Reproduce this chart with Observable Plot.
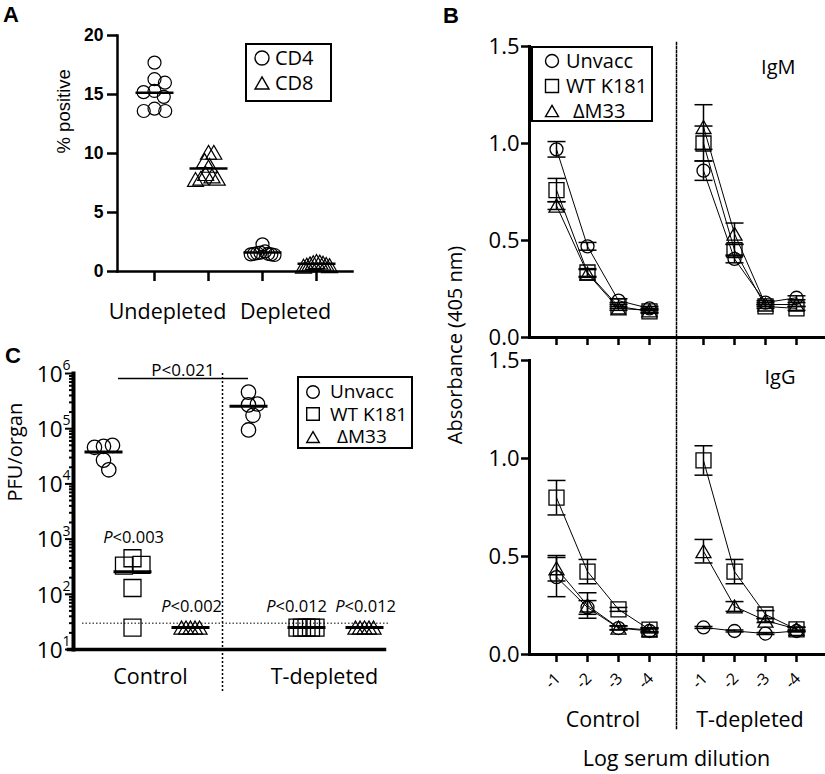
<!DOCTYPE html>
<html><head><meta charset="utf-8">
<script src="https://cdn.jsdelivr.net/npm/d3@7"></script>
<script src="https://cdn.jsdelivr.net/npm/@observablehq/plot@0.6"></script>
<style>
body{margin:0;background:#fff;}
#fig{position:relative;width:825px;height:774px;overflow:hidden;font-family:"Open Sans",sans-serif;color:#000;background:#fff;}
.letter{position:absolute;font:bold 22px "Liberation Sans",Arial,sans-serif;line-height:22px;}
.legend{position:absolute;border:2px solid #000;box-sizing:border-box;background:#fff;line-height:1;}
.legend .row{display:flex;align-items:center;white-space:nowrap;line-height:1;}
.legend svg{display:block;flex:none;}
.ylab{position:absolute;transform:translate(-50%,-50%) rotate(-90deg);white-space:nowrap;line-height:1;}
</style></head>
<body><div id="fig"></div>
<script>
// ---------------- data ----------------
// Panel A: % positive cells
const aGroups = ["Undepleted CD4", "Undepleted CD8", "Depleted CD4", "Depleted CD8"];
const aTreatments = ["Undepleted", "Depleted"];
const aCells = ["CD4", "CD8"];
const aUndepletedCD4 = [17.7, 16.3, 16.0, 15.3, 15.2, 14.8, 13.8, 13.6, 13.6];
const aUndepletedCD8 = [10.1, 10.1, 9.4, 9.0, 8.3, 8.1, 7.9, 7.9, 7.8];
const aDepletedCD4 = [2.3, 1.7, 1.6, 1.55, 1.5, 1.5, 1.45, 1.45, 1.4];
const aDepletedCD8 = [0.85, 0.8, 0.75, 0.7, 0.65, 0.6, 0.55, 0.5, 0.45];
const aYTicks = [0, 5, 10, 15, 20];

// Panel B: absorbance (mean, SEM) by log serum dilution
const bDilutions = ["-1", "-2", "-3", "-4"];
const bTreatments = ["Control", "T-depleted"];
const bVaccines = ["Unvacc", "WT K181", "ΔM33"];
const bPanels = ["IgM", "IgG"];
const bYTicks = [0, 0.5, 1.0, 1.5];
const igmCtrlUnvacc = [0.97, 0.47, 0.19, 0.15],  igmCtrlUnvaccSem = [0.04, 0.02, 0.01, 0.01];
const igmCtrlWT = [0.76, 0.335, 0.16, 0.135],     igmCtrlWTSem = [0.06, 0.02, 0.01, 0.01];
const igmCtrlM33 = [0.68, 0.33, 0.15, 0.14],      igmCtrlM33Sem = [0.02, 0.02, 0.01, 0.01];
const igmTdepUnvacc = [0.86, 0.405, 0.18, 0.205], igmTdepUnvaccSem = [0.05, 0.02, 0.01, 0.01];
const igmTdepWT = [1.0, 0.45, 0.16, 0.15],        igmTdepWTSem = [0.09, 0.03, 0.01, 0.01];
const igmTdepM33 = [1.085, 0.535, 0.17, 0.17],    igmTdepM33Sem = [0.115, 0.055, 0.01, 0.01];
const iggCtrlUnvacc = [0.395, 0.24, 0.135, 0.12], iggCtrlUnvaccSem = [0.1, 0.035, 0.01, 0.01];
const iggCtrlWT = [0.80, 0.423, 0.23, 0.127],     iggCtrlWTSem = [0.088, 0.062, 0.01, 0.01];
const iggCtrlM33 = [0.44, 0.25, 0.137, 0.125],    iggCtrlM33Sem = [0.065, 0.065, 0.01, 0.01];
const iggTdepUnvacc = [0.138, 0.12, 0.107, 0.12], iggTdepUnvaccSem = [0.005, 0.005, 0.005, 0.005];
const iggTdepWT = [0.99, 0.423, 0.204, 0.128],    iggTdepWTSem = [0.075, 0.062, 0.02, 0.01];
const iggTdepM33 = [0.527, 0.245, 0.173, 0.13],   iggTdepM33Sem = [0.06, 0.025, 0.01, 0.01];

// Panel C: PFU/organ
const cControlUnvacc = [48000, 50000, 46000, 27000, 18000];
const cControlWT = [450, 340, 330, 130, 25];
const cControlM33 = [25, 25, 25, 25, 25];
const cTdepUnvacc = [460000, 270000, 280000, 175000, 95000];
const cTdepWT = [25, 25, 25, 25, 25];
const cTdepM33 = [25, 25, 25, 25, 25];
const cYTicks = [1e1, 1e2, 1e3, 1e4, 1e5, 1e6];
const cLimit = [30];
const cPValues = ["<0.003", "<0.002", "<0.012", "<0.012"];
const cBracketLabel = "P<0.021";
// category slots (blank slots are spacing between groups)
const cSlots = ["Control Unvacc", "Control WT K181", " ", "Control ΔM33", "  ",
  "T-depleted Unvacc", "   ", "T-depleted WT K181", "    ", "T-depleted ΔM33"];

// ---------------- helpers ----------------
const sym = {
  circle: {draw(c, s) { const r = Math.sqrt(s / Math.PI); c.moveTo(r, 0); c.arc(0, 0, r, 0, 2 * Math.PI); }},
  square: {draw(c, s) { const r = Math.sqrt(s / Math.PI); c.rect(-r, -r, 2 * r, 2 * r); }},
  triangle: {draw(c, s) { const r = Math.sqrt(s / Math.PI), h = r * Math.sqrt(3);
    c.moveTo(0, -h / 2); c.lineTo(r, h / 2); c.lineTo(-r, h / 2); c.closePath(); }},
  hline: {draw(c, s) { const r = Math.sqrt(s / Math.PI); c.moveTo(-r, 0); c.lineTo(r, 0); }}
};

// beeswarm around each category position (collision distance d, max half-spread)
function swarm({d = 10, maxHalf = Infinity} = {}, options = {}) {
  return Plot.initializer(options, function (data, facets, channels, scales) {
    const XV = channels.x.value, YV = channels.y.value, n = XV.length;
    const X = Float64Array.from(XV, (v) => scales.x(v));
    const Y = Float64Array.from(YV, (v) => scales.y(v));
    const off = new Float64Array(n);
    for (const I of facets) {
      for (const G of d3.group(Array.from(I), (i) => X[i]).values()) {
        const placed = [];
        for (const i of G) {
          const cands = [0];
          for (const j of placed) {
            const dy = Y[i] - Y[j];
            if (Math.abs(dy) < d) { const dx = Math.sqrt(d * d - dy * dy); cands.push(off[j] + dx, off[j] - dx); }
          }
          cands.sort((a, b) => Math.abs(a) - Math.abs(b) || b - a);
          const ok = (c) => placed.every((j) => (c - off[j]) ** 2 + (Y[i] - Y[j]) ** 2 >= d * d - 1e-6);
          off[i] = cands.find(ok) ?? 0;
          placed.push(i);
        }
        const ext = d3.max(G, (i) => Math.abs(off[i]));
        if (ext > maxHalf) for (const i of G) off[i] *= maxHalf / ext;
      }
    }
    return {data, facets, channels: {x: {value: X.map((x, i) => x + off[i])}, y: {value: Y}}};
  });
}

const fig = document.getElementById("fig");
function place(el, left, top) {
  el.style.position = "absolute"; el.style.left = left + "px"; el.style.top = top + "px";
  fig.append(el); return el;
}
function html(tag, cls, text) { const e = document.createElement(tag); if (cls) e.className = cls; if (text != null) e.textContent = text; return e; }
function legend(entries, {left, top, width, height, rowH, padTop, symLeft, gap, fontSize, symR}) {
  const box = html("div", "legend");
  Object.assign(box.style, {width: width + "px", height: height + "px", paddingTop: padTop + "px", fontSize: fontSize + "px"});
  for (const [k, label, extra] of entries) {
    const row = html("div", "row"); row.style.height = rowH + "px";
    const p = d3.path(); sym[k].draw(p, Math.PI * symR * symR);
    const svg = d3.create("svg").attr("width", 18).attr("height", 18).style("margin-left", symLeft + "px");
    svg.append("path").attr("d", p.toString()).attr("transform", "translate(9,9)")
      .attr("fill", "none").attr("stroke", "black").attr("stroke-width", 1.4);
    const t = html("span", null, label); t.style.marginLeft = (gap + (extra || 0)) + "px";
    row.append(svg.node(), t); box.append(row);
  }
  return place(box, left, top);
}
const baseStyle = {fontFamily: "Open Sans", overflow: "visible", background: "transparent"};

// ---------------- Panel A ----------------
const aData = [
  ...aUndepletedCD4.map((value) => ({group: aGroups[0], cell: aCells[0], value})),
  ...aUndepletedCD8.map((value) => ({group: aGroups[1], cell: aCells[1], value})),
  ...aDepletedCD4.map((value) => ({group: aGroups[2], cell: aCells[0], value})),
  ...aDepletedCD8.map((value) => ({group: aGroups[3], cell: aCells[1], value}))
];
const plotA = Plot.plot({
  width: 400, height: 330, marginLeft: 117, marginRight: 48, marginTop: 35, marginBottom: 59,
  style: baseStyle,
  x: {type: "point", domain: aGroups, padding: 0.645},
  y: {domain: [0, 20]},
  marks: [
    Plot.axisY({ticks: aYTicks, tickSize: 10, tickPadding: 4, strokeWidth: 2.5, fontSize: 17.5,
      fontWeight: "bold", fontFamily: "Liberation Sans", label: null}),
    Plot.axisX({tickSize: 10, strokeWidth: 2.5, tickFormat: () => "", label: null}),
    Plot.frame({anchor: "left", strokeWidth: 2.5}),
    Plot.frame({anchor: "bottom", strokeWidth: 2.5}),
    Plot.text(["% positive"], {frameAnchor: "left", rotate: -90, dx: -53, fontSize: 18.5, fontFamily: "Liberation Sans"}),
    Plot.text([aTreatments[0]], {x: () => aGroups[0], frameAnchor: "bottom", dy: 47, dx: 13, fontSize: 21.5}),
    Plot.text([aTreatments[1]], {x: () => aGroups[2], frameAnchor: "bottom", dy: 47, dx: 23, fontSize: 21.5}),
    Plot.dot(aData.filter((d) => d.cell === "CD4"), swarm({d: 11, maxHalf: 12},
      {x: "group", y: "value", symbol: sym.circle, r: 6.5, stroke: "black", strokeWidth: 1.2, fill: "none"})),
    Plot.dot(aData.filter((d) => d.cell === "CD8"), swarm({d: 12, maxHalf: 13},
      {x: "group", y: "value", symbol: sym.triangle, r: 8, stroke: "black", strokeWidth: 1.2, fill: "none"})),
    Plot.dot(aData, Plot.groupX({y: "mean"}, {x: "group", y: "value", symbol: sym.hline, r: 19, stroke: "black", strokeWidth: 2.5}))
  ]
});
place(plotA, 0, 0);

// ---------------- Panel B ----------------
function bTable(series) {
  return series.flatMap(([treatment, vaccine, means, sems]) =>
    means.map((mean, i) => ({treatment, vaccine, dilution: bDilutions[i], mean, sem: sems[i]})));
}
const igmRows = bTable([
  [bTreatments[0], bVaccines[0], igmCtrlUnvacc, igmCtrlUnvaccSem],
  [bTreatments[0], bVaccines[1], igmCtrlWT, igmCtrlWTSem],
  [bTreatments[0], bVaccines[2], igmCtrlM33, igmCtrlM33Sem],
  [bTreatments[1], bVaccines[0], igmTdepUnvacc, igmTdepUnvaccSem],
  [bTreatments[1], bVaccines[1], igmTdepWT, igmTdepWTSem],
  [bTreatments[1], bVaccines[2], igmTdepM33, igmTdepM33Sem]
]);
const iggRows = bTable([
  [bTreatments[0], bVaccines[0], iggCtrlUnvacc, iggCtrlUnvaccSem],
  [bTreatments[0], bVaccines[1], iggCtrlWT, iggCtrlWTSem],
  [bTreatments[0], bVaccines[2], iggCtrlM33, iggCtrlM33Sem],
  [bTreatments[1], bVaccines[0], iggTdepUnvacc, iggTdepUnvaccSem],
  [bTreatments[1], bVaccines[1], iggTdepWT, iggTdepWTSem],
  [bTreatments[1], bVaccines[2], iggTdepM33, iggTdepM33Sem]
]);
const bSymbols = {[bVaccines[0]]: [sym.circle, 6.5], [bVaccines[1]]: [sym.square, 7.5], [bVaccines[2]]: [sym.triangle, 7.5]};

function plotB(rows, panelLabel, {height, marginTop, marginBottom, divTop, divBottom, labelDy, bottom}) {
  const common = {fx: "treatment", x: "dilution"};
  const marks = [
    Plot.frame({anchor: "left", facet: "super", strokeWidth: 3}),
    Plot.frame({anchor: "bottom", facet: "super", strokeWidth: 3}),
    Plot.frame({anchor: "left", fx: [bTreatments[1]], strokeWidth: 1.5, strokeDasharray: "2,2",
      insetTop: divTop, insetBottom: divBottom}),
    Plot.axisY({ticks: bYTicks, tickFormat: d3.format(".1f"), tickSize: 8, tickPadding: 2, strokeWidth: 2.5,
      fontSize: 22, label: null}),
    Plot.axisX({tickSize: 8, strokeWidth: 2.5, tickFormat: () => "", label: null}),
    Plot.line(rows, {...common, y: "mean", z: "vaccine", stroke: "black", strokeWidth: 1}),
    Plot.ruleX(rows, {...common, y1: (d) => d.mean - d.sem, y2: (d) => d.mean + d.sem, stroke: "black", strokeWidth: 1.5}),
    Plot.dot(rows, {...common, y: (d) => d.mean + d.sem, symbol: sym.hline, r: 9, stroke: "black", strokeWidth: 1.5}),
    Plot.dot(rows, {...common, y: (d) => d.mean - d.sem, symbol: sym.hline, r: 9, stroke: "black", strokeWidth: 1.5}),
    ...bVaccines.map((v) => Plot.dot(rows.filter((d) => d.vaccine === v),
      {...common, y: "mean", symbol: bSymbols[v][0], r: bSymbols[v][1], stroke: "black", strokeWidth: 1.3, fill: "none"})),
    Plot.text([panelLabel], {fx: () => bTreatments[1], frameAnchor: "top-right", textAnchor: "end", dx: -28, dy: labelDy, fontSize: 20})
  ];
  if (bottom) {
    const tickRows = bTreatments.flatMap((treatment) => bDilutions.map((dilution) => ({treatment, dilution})));
    marks.push(
      Plot.text(tickRows, {fx: "treatment", x: "dilution", text: "dilution", frameAnchor: "bottom", dy: 30, rotate: -45, fontSize: 16}),
      Plot.text(bTreatments, {fx: (d) => d, frameAnchor: "bottom", dy: 72, fontSize: 21.5}),
      Plot.text(["Log serum dilution"], {facet: "super", frameAnchor: "bottom", dy: 111, fontSize: 21.5})
    );
  }
  return Plot.plot({
    width: 415, height, marginLeft: 119, marginRight: 2, marginTop, marginBottom,
    style: baseStyle,
    fx: {domain: bTreatments, padding: 0, axis: null},
    x: {type: "point", domain: bDilutions, padding: 0.87},
    y: {domain: [0, 1.5]},
    marks
  });
}
place(plotB(igmRows, bPanels[0], {height: 350, marginTop: 46, marginBottom: 13, divTop: -4, divBottom: -13, labelDy: 13}), 410, 0);
place(plotB(iggRows, bPanels[1], {height: 424, marginTop: 10, marginBottom: 120, divTop: -10, divBottom: -76, labelDy: 9, bottom: true}), 410, 350);

// ---------------- Panel C ----------------
const cData = [
  ...cControlUnvacc.map((value) => ({group: cSlots[0], vaccine: bVaccines[0], value})),
  ...cControlWT.map((value) => ({group: cSlots[1], vaccine: bVaccines[1], value})),
  ...cControlM33.map((value) => ({group: cSlots[3], vaccine: bVaccines[2], value})),
  ...cTdepUnvacc.map((value) => ({group: cSlots[5], vaccine: bVaccines[0], value})),
  ...cTdepWT.map((value) => ({group: cSlots[7], vaccine: bVaccines[1], value})),
  ...cTdepM33.map((value) => ({group: cSlots[9], vaccine: bVaccines[2], value}))
];
const cPRows = [cSlots[1], cSlots[3], cSlots[7], cSlots[9]].map((group, i) =>
  ({group, text: cPValues[i], top: d3.max(cData.filter((d) => d.group === group), (d) => d.value)}));
const cBracket = [{from: cSlots[0], to: cSlots[5], value: 8.1e5, label: cBracketLabel}];
const cTreatRows = [{slot: cSlots[2], label: bTreatments[0]}, {slot: cSlots[8], label: bTreatments[1]}];
const cMinorTicks = d3.range(1, 6).flatMap((e) => d3.range(2, 10).map((m) => m * 10 ** e));
const cSymbols = {[bVaccines[0]]: [sym.circle, 7.2], [bVaccines[1]]: [sym.square, 8.5], [bVaccines[2]]: [sym.triangle, 7.5]};
// P labels: italic "P" + value; the T-depleted WT label sits left of its group as in the original
function pLabel(rows, shift) {
  return [
    Plot.text(rows, {x: "group", y: "top", text: () => "P", textAnchor: "end", dx: -20 + shift, dy: -21, fontSize: 16.5, fontStyle: "italic"}),
    Plot.text(rows, {x: "group", y: "top", text: "text", textAnchor: "start", dx: -20 + shift, dy: -21, fontSize: 16.5})
  ];
}

const plotC = Plot.plot({
  width: 420, height: 444, marginLeft: 73, marginRight: 36, marginTop: 43, marginBottom: 125,
  style: baseStyle,
  x: {type: "point", domain: cSlots, padding: 0.862, align: 0.6, axis: null},
  y: {type: "log", domain: [10, 1e6]},
  marks: [
    Plot.axisY({ticks: cMinorTicks, tickSize: 4, strokeWidth: 2, tickFormat: () => "", label: null}),
    Plot.axisY({ticks: cYTicks, tickSize: 8, strokeWidth: 2, tickFormat: () => "", label: null}),
    Plot.text(cYTicks, {y: (d) => d, frameAnchor: "left", text: () => "10", textAnchor: "end", dx: -11, dy: 1, fontSize: 22.5}),
    Plot.text(cYTicks, {y: (d) => d, frameAnchor: "left", text: (d) => String(Math.round(Math.log10(d))), textAnchor: "start", dx: -11, dy: -8, fontSize: 14}),
    Plot.text(["PFU/organ"], {frameAnchor: "left", rotate: -90, dx: -58, dy: -10, fontSize: 20}),
    Plot.frame({anchor: "left", strokeWidth: 4}),
    Plot.frame({anchor: "bottom", strokeWidth: 3.5, insetLeft: -5}),
    Plot.ruleY(cLimit, {stroke: "black", strokeWidth: 1, strokeDasharray: "1.5,2", insetLeft: 9, insetRight: -6}),
    Plot.ruleX([cSlots[4]], {dx: 3, stroke: "black", strokeWidth: 1.5, strokeDasharray: "2,2", insetBottom: -43}),
    Plot.ruleY(cBracket, {y: "value", x1: "from", x2: "to", insetLeft: 15, stroke: "black", strokeWidth: 1.5}),
    Plot.text(cBracket, {x: "from", y: "value", text: "label", dx: 79.5, dy: -3, lineAnchor: "bottom", fontSize: 17}),
    ...pLabel(cPRows.filter((d) => d.group !== cSlots[7]), 0),
    ...pLabel(cPRows.filter((d) => d.group === cSlots[7]), -11),
    ...bVaccines.map((v) => Plot.dot(cData.filter((d) => d.vaccine === v), swarm({d: 12, maxHalf: 9},
      {x: "group", y: "value", symbol: cSymbols[v][0], r: cSymbols[v][1], stroke: "black", strokeWidth: 1.3, fill: "none"}))),
    Plot.dot(cData, Plot.groupX({y: "mean"}, {x: "group", y: "value", symbol: sym.hline, r: 19, stroke: "black", strokeWidth: 3})),
    Plot.text(cTreatRows, {x: "slot", text: "label", frameAnchor: "bottom", dx: -11, dy: 34, fontSize: 21.5})
  ]
});
place(plotC, 0, 330);

// ---------------- legends, titles, letters ----------------
legend([["circle", aCells[0]], ["triangle", aCells[1]]],
  {left: 245, top: 43, width: 87, height: 59, rowH: 25, padTop: 0.5, symLeft: 6, gap: 4, fontSize: 20, symR: 7});
legend([["circle", bVaccines[0]], ["square", bVaccines[1]], ["triangle", bVaccines[2], 7]],
  {left: 531, top: 46, width: 122, height: 76, rowH: 25, padTop: 0, symLeft: 10, gap: 5, fontSize: 20, symR: 6.5});
legend([["circle", bVaccines[0]], ["square", bVaccines[1]], ["triangle", bVaccines[2], 7]],
  {left: 297, top: 376, width: 116, height: 73, rowH: 22.5, padTop: 2.5, symLeft: 5, gap: 8, fontSize: 19, symR: 6.3});

const yl = html("div", "ylab", "Absorbance (405 nm)"); yl.style.fontSize = "20px"; place(yl, 455, 345);
place(html("div", "letter", "A"), 3, 4);
place(html("div", "letter", "B"), 443, 5);
place(html("div", "letter", "C"), 5, 345);
</script>
</body></html>
